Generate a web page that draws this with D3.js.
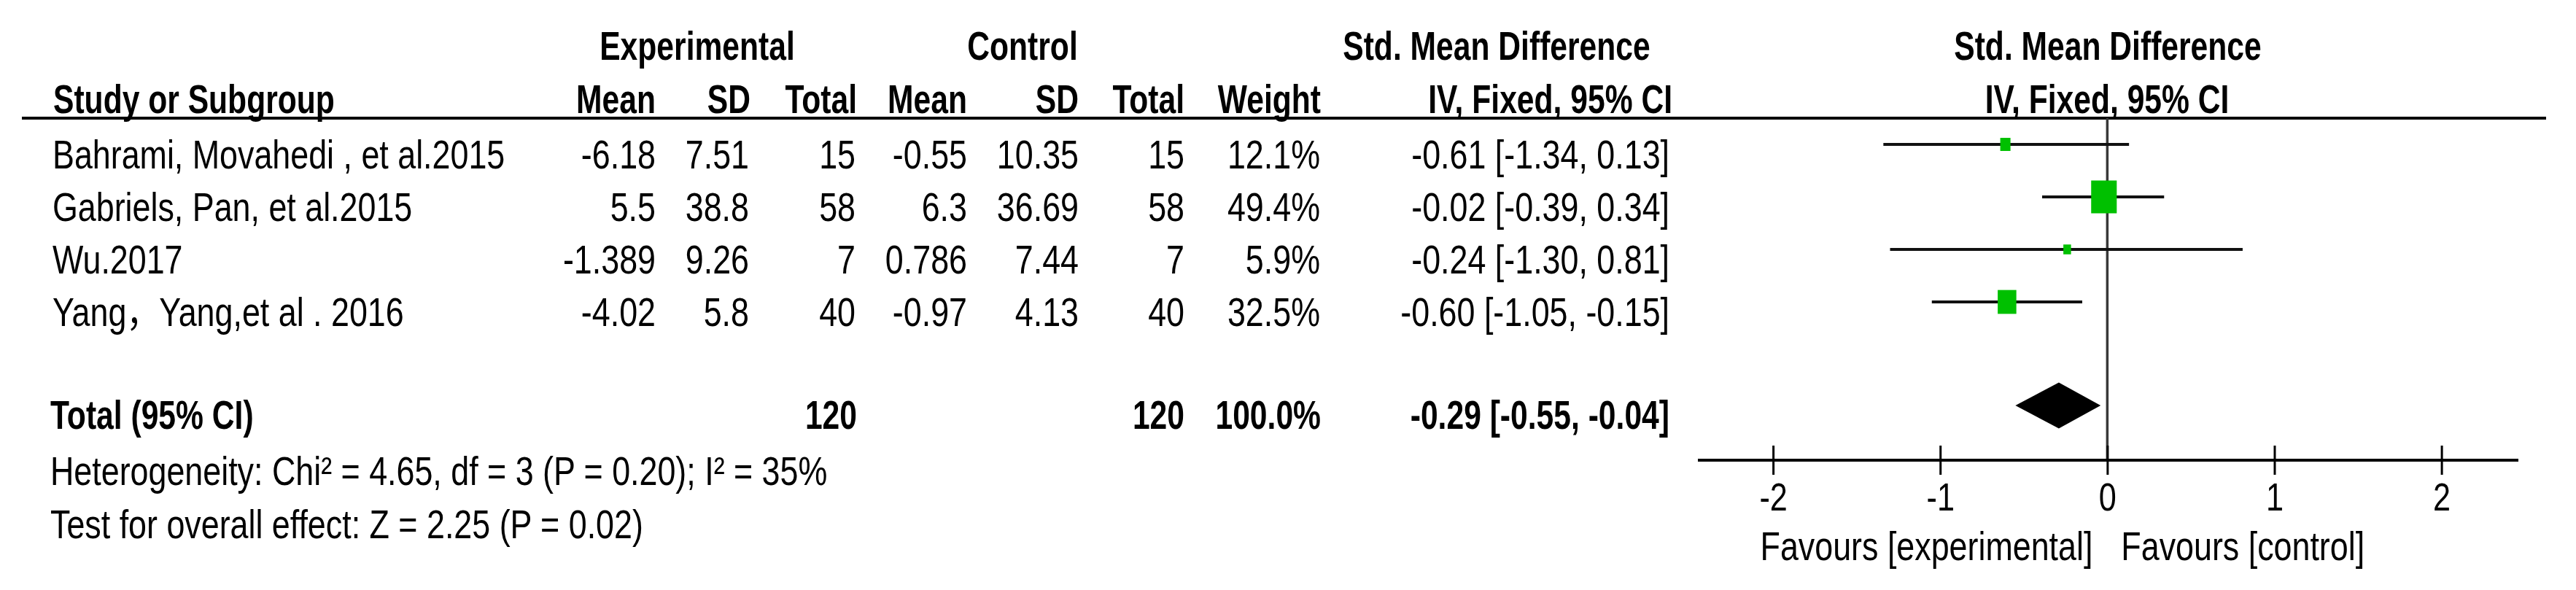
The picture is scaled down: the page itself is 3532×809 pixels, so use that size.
<!DOCTYPE html>
<html>
<head>
<meta charset="utf-8">
<script src="https://cdn.jsdelivr.net/npm/d3@7"></script>
<style>
  body { margin: 0; background: #fff; }
  text { font-family: "Liberation Sans", Arial, "Noto Sans CJK SC", sans-serif; fill: #000; }
</style>
</head>
<body>
<div id="chart"></div>
<script>
const width = 3532;
const height = 809;

// data
const studies = ['Bahrami, Movahedi , et al.2015', 'Gabriels, Pan, et al.2015', 'Wu.2017', 'Yang\uFF0CYang,et al . 2016'];
const expMean = [-6.18, 5.5, -1.389, -4.02];
const expSD = [7.51, 38.8, 9.26, 5.8];
const expN = [15, 58, 7, 40];
const ctrlMean = [-0.55, 6.3, 0.786, -0.97];
const ctrlSD = [10.35, 36.69, 7.44, 4.13];
const ctrlN = [15, 58, 7, 40];
const weights = [12.1, 49.4, 5.9, 32.5];
const smd = [-0.61, -0.02, -0.24, -0.60];
const ciLow = [-1.34, -0.39, -1.30, -1.05];
const ciHigh = [0.13, 0.34, 0.81, -0.15];

const total = { expN: 120, ctrlN: 120, weight: 100.0, smd: -0.29, low: -0.55, high: -0.04 };
const heterogeneity = 'Heterogeneity: Chi\u00B2 = 4.65, df = 3 (P = 0.20); I\u00B2 = 35%';
const overallTest = 'Test for overall effect: Z = 2.25 (P = 0.02)';
const tickValues = [-2, -1, 0, 1, 2];
const favourLabels = ['Favours [experimental]', 'Favours [control]'];

// layout
const fontSize = 55;
const cols = { name: 72, expMean: 899, expSD: 1027, expN: 1173, ctrlMean: 1326, ctrlSD: 1479, ctrlN: 1624, weight: 1810, ci: 2289 };
const fmt2 = v => v.toFixed(2);   // plain hyphen minus, like RevMan

const svg = d3.select('#chart').append('svg')
  .attr('width', width)
  .attr('height', height);

// text helper: the picture is horizontally condensed, so squeeze each label
const txt = (x, y, s, anchor, bold, size) => svg.append('text')
  .attr('transform', 'translate(' + x + ',' + y + ') scale(' + (bold ? 0.775 : 0.815) + ',1)')
  .attr('text-anchor', anchor || 'start')
  .attr('font-weight', bold ? 'bold' : 'normal')
  .attr('font-size', size || fontSize)
  .text(s);

/* Scales */
const xScale = d3.scaleLinear()
  .domain([-2.45, 2.46])
  .range([2328, 3453]);

const yScale = d3.scalePoint()
  .domain(studies)
  .range([198, 414]);

const totalY = 556;
const axisY = 631;
const textDy = 33;

const boxH = d3.scaleLinear().domain([0, 50]).range([9.2, 45.4]);

/* Headers */
txt(956, 82, 'Experimental', 'middle', true);
txt(1402, 82, 'Control', 'middle', true);
txt(2052, 82, 'Std. Mean Difference', 'middle', true);
txt(2890, 82, 'Std. Mean Difference', 'middle', true);

txt(73, 155, 'Study or Subgroup', 'start', true);
txt(899, 155, 'Mean', 'end', true);
txt(1029, 155, 'SD', 'end', true);
txt(1175, 155, 'Total', 'end', true);
txt(1326, 155, 'Mean', 'end', true);
txt(1479, 155, 'SD', 'end', true);
txt(1624, 155, 'Total', 'end', true);
txt(1811, 155, 'Weight', 'end', true);
txt(2293, 155, 'IV, Fixed, 95% CI', 'end', true);
txt(2889, 155, 'IV, Fixed, 95% CI', 'middle', true);

svg.append('line')
  .attr('x1', 30).attr('x2', 3491)
  .attr('y1', 162).attr('y2', 162)
  .attr('stroke', '#000').attr('stroke-width', 4);

/* Study rows */
studies.forEach((s, i) => {
  const y = yScale(s) + textDy;
  txt(cols.name, y, s, 'start', false);
  txt(cols.expMean, y, expMean[i], 'end', false);
  txt(cols.expSD, y, expSD[i], 'end', false);
  txt(cols.expN, y, expN[i], 'end', false);
  txt(cols.ctrlMean, y, ctrlMean[i], 'end', false);
  txt(cols.ctrlSD, y, ctrlSD[i], 'end', false);
  txt(cols.ctrlN, y, ctrlN[i], 'end', false);
  txt(cols.weight, y, weights[i].toFixed(1) + '%', 'end', false);
  txt(cols.ci, y, fmt2(smd[i]) + ' [' + fmt2(ciLow[i]) + ', ' + fmt2(ciHigh[i]) + ']', 'end', false);
});

/* Total row */
const ty = totalY + textDy - 1;
txt(cols.name - 3, ty, 'Total (95% CI)', 'start', true);
txt(cols.expN + 2, ty, total.expN, 'end', true);
txt(cols.ctrlN, ty, total.ctrlN, 'end', true);
txt(cols.weight + 1, ty, total.weight.toFixed(1) + '%', 'end', true);
txt(cols.ci, ty, fmt2(total.smd) + ' [' + fmt2(total.low) + ', ' + fmt2(total.high) + ']', 'end', true);

txt(cols.name - 3, 665, heterogeneity, 'start', false);
txt(cols.name - 3, 738, overallTest, 'start', false);

/* Null line */
svg.append('line')
  .attr('x1', xScale(0)).attr('x2', xScale(0))
  .attr('y1', 162).attr('y2', axisY)
  .attr('stroke', '#383838').attr('stroke-width', 3.5);

/* CI lines and boxes */
svg.selectAll('.ci')
  .data(studies)
  .enter()
  .append('line')
  .attr('x1', (d, i) => xScale(ciLow[i]))
  .attr('x2', (d, i) => xScale(ciHigh[i]))
  .attr('y1', d => yScale(d))
  .attr('y2', d => yScale(d))
  .attr('stroke', '#111')
  .attr('stroke-width', 4);

svg.selectAll('.box')
  .data(studies)
  .enter()
  .append('rect')
  .attr('width', (d, i) => boxH(weights[i]) * 0.78)
  .attr('height', (d, i) => boxH(weights[i]))
  .attr('x', (d, i) => xScale(smd[i]) - boxH(weights[i]) * 0.39)
  .attr('y', (d, i) => yScale(d) - boxH(weights[i]) / 2)
  .style('fill', '#00c000');

/* Diamond */
svg.append('polygon')
  .attr('points', [
    [xScale(total.low), totalY],
    [xScale(total.smd), totalY - 31.5],
    [xScale(total.high), totalY],
    [xScale(total.smd), totalY + 31.5]
  ].map(p => p.join(',')).join(' '))
  .style('fill', '#000');

/* Axis */
svg.append('line')
  .attr('x1', xScale.range()[0]).attr('x2', xScale.range()[1])
  .attr('y1', axisY).attr('y2', axisY)
  .attr('stroke', '#000').attr('stroke-width', 4);

const axis = svg.append('g')
  .attr('transform', 'translate(0,' + (axisY - 20) + ')')
  .call(d3.axisBottom(xScale).tickValues(tickValues).tickSize(40).tickPadding(11).tickFormat(d => String(d)));

axis.select('.domain').remove();
axis.selectAll('.tick line').attr('stroke', '#000').attr('stroke-width', 3);
axis.selectAll('.tick text')
  .attr('font-size', 54)
  .attr('font-family', '"Liberation Sans", Arial, sans-serif')
  .attr('fill', '#000')
  .attr('transform', 'scale(0.8,1)');

txt(xScale(0) - 20, 768, favourLabels[0], 'end', false);
txt(xScale(0) + 19, 768, favourLabels[1], 'start', false);
</script>
</body>
</html>
